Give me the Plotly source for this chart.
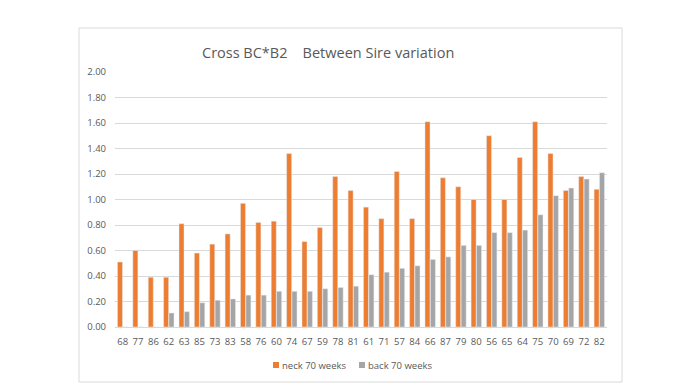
import plotly.graph_objects as go

categories = ["68", "77", "86", "62", "63", "85", "73", "83", "58", "76", "60", "74", "67", "59", "78", "81",
              "61", "71", "57", "84", "66", "87", "79", "80", "56", "65", "64", "75", "70", "69", "72", "82"]
neck_70 = [0.51, 0.60, 0.39, 0.39, 0.81, 0.58, 0.65, 0.73, 0.97, 0.82, 0.83, 1.36, 0.67, 0.78, 1.18, 1.07,
           0.94, 0.85, 1.22, 0.85, 1.61, 1.17, 1.10, 1.00, 1.50, 1.00, 1.33, 1.61, 1.36, 1.07, 1.18, 1.08]
back_70 = [0.00, 0.00, 0.00, 0.11, 0.12, 0.19, 0.21, 0.22, 0.25, 0.25, 0.28, 0.28, 0.28, 0.30, 0.31, 0.32,
           0.41, 0.43, 0.46, 0.48, 0.53, 0.55, 0.64, 0.64, 0.74, 0.74, 0.76, 0.88, 1.03, 1.09, 1.16, 1.21]
y_ticks = [0.0, 0.2, 0.4, 0.6, 0.8, 1.0, 1.2, 1.4, 1.6, 1.8, 2.0]
series_names = ["neck 70 weeks", "back 70 weeks"]
series_colors = ["#ED7D31", "#A5A5A5"]

font_family = "Open Sans, Noto Sans, sans-serif"
text_color = "#595959"

fig = go.Figure()
fig.add_trace(go.Bar(x=categories, y=neck_70, name=series_names[0], marker_color=series_colors[0]))
fig.add_trace(go.Bar(x=categories, y=back_70, name=series_names[1], marker_color=series_colors[1]))

# plot area in page pixels: x 115..607, y 72..327
def px(x):
    return (x - 115) / 492

def py(y):
    return (327 - y) / 255

shapes = [dict(type="rect", xref="paper", yref="paper", x0=px(79), x1=px(622), y0=py(382), y1=py(28),
               line=dict(color="#D9D9D9", width=1), fillcolor="rgba(0,0,0,0)", layer="below")]
annotations = [dict(text="Cross BC*B2\u00a0\u00a0\u00a0\u00a0Between Sire variation", xref="paper", yref="paper",
                    x=px(328), y=py(52), xanchor="center", yanchor="middle",
                    showarrow=False, font=dict(size=14.5, color=text_color, family=font_family))]

# legend (manual, to match spacing of the reference)
legend_sq_x = [273, 359]
for name, color, sx in zip(series_names, series_colors, legend_sq_x):
    shapes.append(dict(type="rect", xref="paper", yref="paper", x0=px(sx), x1=px(sx + 6),
                       y0=py(368), y1=py(362), line=dict(width=0), fillcolor=color))
    annotations.append(dict(text=name, xref="paper", yref="paper", x=px(sx + 8), y=py(365),
                            xanchor="left", yanchor="middle", showarrow=False, borderpad=0,
                            font=dict(size=9.5, color=text_color, family=font_family)))

fig.update_layout(
    width=683, height=380,
    margin=dict(l=107, r=84, t=64, b=61),
    paper_bgcolor="white", plot_bgcolor="white",
    barmode="group", bargap=0.3, bargroupgap=0.06,
    font=dict(family=font_family, size=9.5, color=text_color),
    showlegend=False,
    xaxis=dict(type="category", showgrid=False, showline=False, ticks="", ticklabelstandoff=7,
               tickfont=dict(size=9.5, color=text_color)),
    yaxis=dict(range=[0, 2.0], tickvals=y_ticks, tickformat=".2f", showgrid=True, gridcolor="#D9D9D9",
               gridwidth=1, zeroline=True, zerolinecolor="#D9D9D9", zerolinewidth=1, showline=False,
               ticks="", ticklabelstandoff=8, tickfont=dict(size=9.5, color=text_color)),
    shapes=shapes,
    annotations=annotations,
)

fig.write_html("out.html")
